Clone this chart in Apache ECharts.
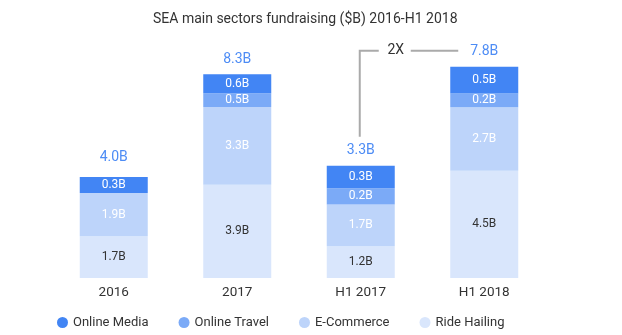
<!DOCTYPE html>
<html>
<head>
<meta charset="utf-8">
<script src="https://cdn.jsdelivr.net/npm/echarts@6/dist/echarts.min.js"></script>
<style>
html,body{margin:0;padding:0;background:#fff;}
#chart{width:622px;height:335px;}
</style>
</head>
<body>
<div id="chart"></div>
<script>
// Data (segment heights as drawn in the picture, in $B)
const categories = ['2016', '2017', 'H1 2017', 'H1 2018'];
const rideHailing = [1.75, 3.92, 1.33, 4.51];
const eCommerce = [1.82, 3.26, 1.76, 2.66];
const onlineTravel = [0, 0.58, 0.68, 0.58];
const onlineMedia = [0.67, 0.80, 0.95, 1.13];

// Label texts
const rideHailingLabels = ['1.7B', '3.9B', '1.2B', '4.5B'];
const eCommerceLabels = ['1.9B', '3.3B', '1.7B', '2.7B'];
const onlineTravelLabels = ['', '0.5B', '0.2B', '0.2B'];
const onlineMediaLabels = ['0.3B', '0.6B', '0.3B', '0.5B'];
const totalLabels = ['4.0B', '8.3B', '3.3B', '7.8B'];
const growthLabel = '2X';
const seriesNames = ['Online Media', 'Online Travel', 'E-Commerce', 'Ride Hailing'];

const FONT = 'Roboto';
const chart = echarts.init(document.getElementById('chart'), null, {renderer: 'canvas'});

function seg(name, values, labels, color, labelColor) {
  return {
    name: name,
    type: 'bar',
    stack: 'total',
    barWidth: 68,
    itemStyle: {color: color},
    label: {
      show: true,
      position: 'inside',
      color: labelColor,
      fontFamily: FONT,
      fontSize: 12,
      formatter: function (p) { return labels[p.dataIndex]; }
    },
    emphasis: {disabled: true},
    data: values
  };
}

const series = [
  seg('Ride Hailing', rideHailing, rideHailingLabels, '#d9e6fc', '#333333'),
  seg('E-Commerce', eCommerce, eCommerceLabels, '#bdd4fa', '#ffffff'),
  seg('Online Travel', onlineTravel, onlineTravelLabels, '#7baaf7', '#ffffff'),
  seg('Online Media', onlineMedia, onlineMediaLabels, '#4285f4', '#ffffff'),
  {
    name: 'total',
    type: 'bar',
    stack: 'total',
    barWidth: 68,
    itemStyle: {color: 'transparent'},
    label: {
      show: true,
      position: 'top',
      distance: 8,
      color: '#4d8cf5',
      fontFamily: FONT,
      fontSize: 14,
      formatter: function (p) { return totalLabels[p.dataIndex]; }
    },
    emphasis: {disabled: true},
    data: categories.map(function (c, i) {
      return i === 0 ? {value: 0, label: {distance: 13}} : 0;
    })
  }
];

chart.setOption({
  animation: false,
  backgroundColor: '#ffffff',
  title: {
    text: 'SEA main sectors fundraising ($B) 2016-H1 2018',
    left: 148,
    top: 7,
    textStyle: {fontFamily: FONT, fontSize: 14, fontWeight: 'normal', color: '#333333'}
  },
  legend: {
    data: seriesNames,
    left: 52,
    top: 311,
    icon: 'circle',
    itemWidth: 11,
    itemHeight: 11,
    itemGap: 30,
    textStyle: {fontFamily: FONT, fontSize: 13, color: '#333333'}
  },
  grid: {left: 52, right: 76, top: 40, bottom: 57, containLabel: false},
  xAxis: {
    type: 'category',
    data: categories,
    axisLine: {show: false},
    axisTick: {show: false},
    axisLabel: {fontFamily: FONT, fontSize: 13.5, color: '#333333', margin: 8}
  },
  yAxis: {
    type: 'value',
    min: 0,
    max: 10,
    show: false,
    splitLine: {show: false}
  },
  series: series
});

// Growth annotation, positioned through the chart's own scales
function stackTop(i) {
  return rideHailing[i] + eCommerce[i] + onlineTravel[i] + onlineMedia[i];
}
const pA = chart.convertToPixel({gridIndex: 0}, [2, stackTop(2)]);
const pB = chart.convertToPixel({gridIndex: 0}, [3, stackTop(3)]);
const x1 = pA[0] - 1;
const yBottom = pA[1] - 29;
const yLine = pB[1] - 16;
const x2 = pB[0] - 26;
const lineStyle = {stroke: '#aaaaaa', lineWidth: 2, fill: null};
chart.setOption({
  graphic: [
    {type: 'polyline', shape: {points: [[x1, yBottom], [x1, yLine], [x1 + 19, yLine]]}, style: lineStyle, silent: true},
    {type: 'line', shape: {x1: x1 + 51, y1: yLine, x2: x2, y2: yLine}, style: lineStyle, silent: true},
    {type: 'text', x: x1 + 36, y: yLine, style: {text: growthLabel, fontFamily: FONT, fontSize: 14, fill: '#333333', align: 'center', verticalAlign: 'middle'}, silent: true}
  ]
});
</script>
</body>
</html>
